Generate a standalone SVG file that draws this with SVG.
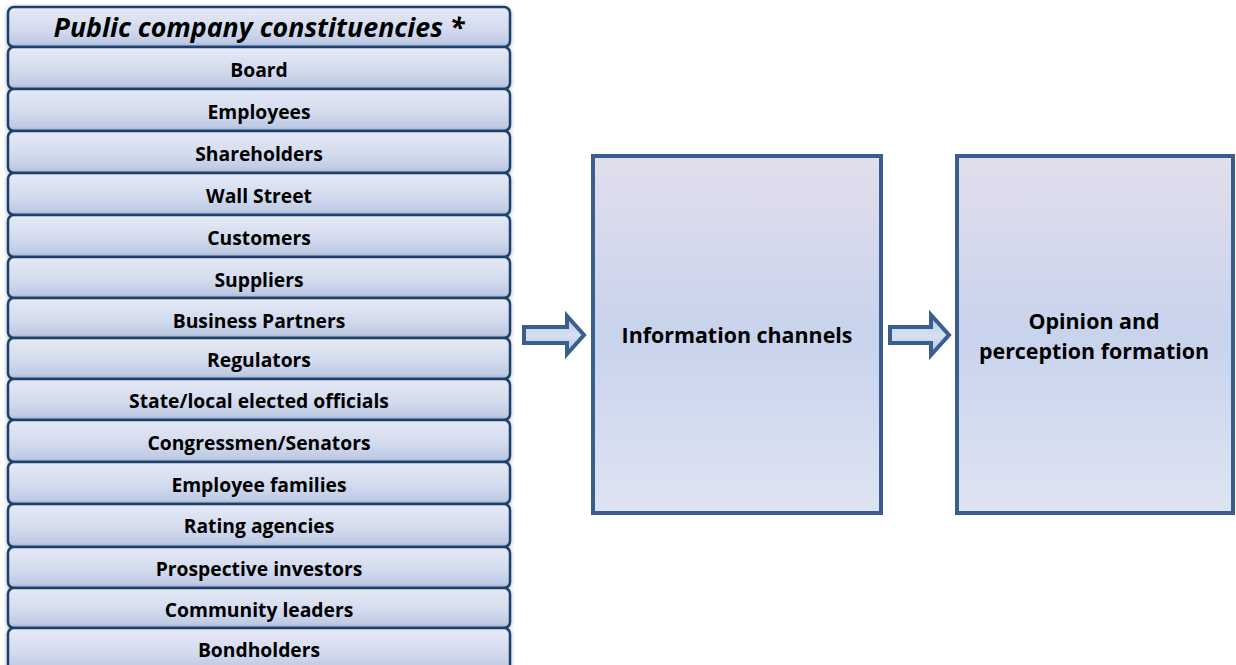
<svg xmlns="http://www.w3.org/2000/svg" width="1236" height="665" viewBox="0 0 1236 665">
<defs>
<linearGradient id="rowg" x1="0" y1="0" x2="0" y2="1">
<stop offset="0" stop-color="#E6EAF5"/>
<stop offset="0.55" stop-color="#D3DBEE"/>
<stop offset="1" stop-color="#B9C6E2"/>
</linearGradient>
<linearGradient id="boxg" x1="0" y1="0" x2="0" y2="1">
<stop offset="0" stop-color="#E2DEEC"/>
<stop offset="0.5" stop-color="#C8D3EC"/>
<stop offset="1" stop-color="#DEE4F3"/>
</linearGradient>
<linearGradient id="arrg" x1="0" y1="0" x2="0" y2="1">
<stop offset="0" stop-color="#B4C5E6"/>
<stop offset="0.5" stop-color="#D6E0F3"/>
<stop offset="1" stop-color="#B4C5E6"/>
</linearGradient>
<filter id="sh" x="-5%" y="-20%" width="110%" height="140%">
<feDropShadow dx="0" dy="1" stdDeviation="2" flood-color="#000" flood-opacity="0.3"/>
</filter>
<style>
.row{fill:url(#rowg);stroke:#1B416E;stroke-width:2.5;filter:url(#sh)}
.rt{font-family:"Open Sans","Liberation Sans",sans-serif;font-weight:bold;font-size:19.3px;fill:#000;text-anchor:middle}
.tt{font-family:"Open Sans","Liberation Sans",sans-serif;font-weight:bold;font-style:italic;font-size:26.8px;fill:#000;text-anchor:middle}
.box{fill:url(#boxg);stroke:#3A5F8E;stroke-width:4}
.bt{font-family:"Open Sans","Liberation Sans",sans-serif;font-weight:bold;font-size:21.4px;fill:#000;text-anchor:middle}
.arr{fill:url(#arrg);stroke:#3A5F8E;stroke-width:4;stroke-linejoin:miter}
</style>
</defs>
<g id="constituencies">
<g id="row-title"><rect class="row" x="8" y="7" width="502" height="40" rx="6"/><text class="tt" x="259" y="36.5">Public company constituencies *</text></g>
<g id="row-board"><rect class="row" x="8" y="47" width="502" height="42" rx="6"/><text class="rt" x="259" y="77">Board</text></g>
<g id="row-employees"><rect class="row" x="8" y="89" width="502" height="42" rx="6"/><text class="rt" x="259" y="119">Employees</text></g>
<g id="row-shareholders"><rect class="row" x="8" y="131" width="502" height="42" rx="6"/><text class="rt" x="259" y="161">Shareholders</text></g>
<g id="row-wallstreet"><rect class="row" x="8" y="173" width="502" height="42" rx="6"/><text class="rt" x="259" y="203">Wall Street</text></g>
<g id="row-customers"><rect class="row" x="8" y="215" width="502" height="42" rx="6"/><text class="rt" x="259" y="245">Customers</text></g>
<g id="row-suppliers"><rect class="row" x="8" y="257" width="502" height="41" rx="6"/><text class="rt" x="259" y="286.5">Suppliers</text></g>
<g id="row-partners"><rect class="row" x="8" y="298" width="502" height="40" rx="6"/><text class="rt" x="259" y="328">Business Partners</text></g>
<g id="row-regulators"><rect class="row" x="8" y="338" width="502" height="41" rx="6"/><text class="rt" x="259" y="366.5">Regulators</text></g>
<g id="row-state"><rect class="row" x="8" y="379" width="502" height="41" rx="6"/><text class="rt" x="259" y="408">State/local elected officials</text></g>
<g id="row-congress"><rect class="row" x="8" y="420" width="502" height="42" rx="6"/><text class="rt" x="259" y="449.5">Congressmen/Senators</text></g>
<g id="row-families"><rect class="row" x="8" y="462" width="502" height="42" rx="6"/><text class="rt" x="259" y="491.5">Employee families</text></g>
<g id="row-rating"><rect class="row" x="8" y="504" width="502" height="43" rx="6"/><text class="rt" x="259" y="533">Rating agencies</text></g>
<g id="row-prospective"><rect class="row" x="8" y="547" width="502" height="41" rx="6"/><text class="rt" x="259" y="575.5">Prospective investors</text></g>
<g id="row-community"><rect class="row" x="8" y="588" width="502" height="40" rx="6"/><text class="rt" x="259" y="616.5">Community leaders</text></g>
<g id="row-bondholders"><rect class="row" x="8" y="628" width="502" height="44" rx="6"/><text class="rt" x="259" y="657">Bondholders</text></g>
</g>
<g id="info-channels"><rect class="box" x="593" y="156" width="288" height="357"/><text class="bt" x="737" y="343">Information channels</text></g>
<g id="opinion"><rect class="box" x="957" y="156" width="276" height="357"/><text class="bt" x="1094" y="328.5">Opinion and</text><text class="bt" x="1094" y="358.5">perception formation</text></g>
<g id="connectors">
<path class="arr" d="M524,327 H567 V316 L584,335 L567,354 V343 H524 Z"/>
<path class="arr" d="M890,327 H931 V315 L949,335 L931,355 V343 H890 Z"/>
</g>
</svg>
